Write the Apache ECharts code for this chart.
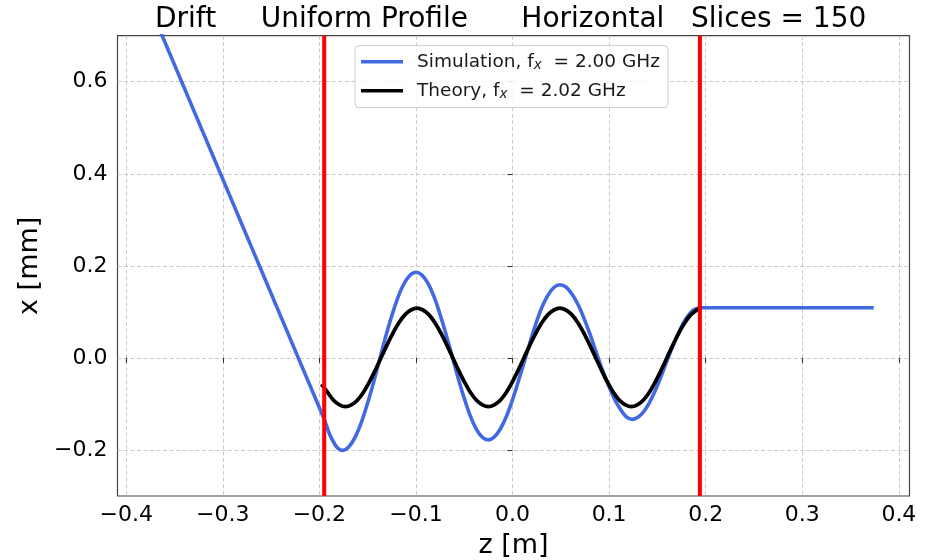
<!DOCTYPE html>
<html>
<head>
<meta charset="utf-8">
<script src="https://cdn.jsdelivr.net/npm/echarts@6/dist/echarts.min.js"></script>
<style>html,body{margin:0;padding:0;background:#fff}#c{width:932px;height:560px}</style>
</head>
<body>
<div id="c"></div>
<script>
// ---- data ----
const titleText = 'Drift     Uniform Profile      Horizontal   Slices = 150';
const driftZ = [-0.372, -0.195];
const driftX = [0.746, -0.133];
const simZ = [-0.195, -0.1918, -0.189, -0.1839, -0.1804, -0.1763,
  -0.1699, -0.1636, -0.1572, -0.1509, -0.1445, -0.1382, -0.1318, -0.1254, -0.1191, -0.1127, -0.1064, -0.100,
  -0.0938, -0.0875, -0.0813, -0.0751, -0.0688, -0.0626, -0.0564, -0.0501, -0.0439, -0.0377, -0.0314, -0.0252,
  -0.019, -0.0128, -0.0067, -0.0005, 0.0057, 0.0119, 0.0181, 0.0243, 0.0304, 0.0366, 0.0428, 0.049,
  0.0553, 0.0615, 0.0678, 0.074, 0.0803, 0.0865, 0.0928, 0.099, 0.1053, 0.1115, 0.1178, 0.124,
  0.1298, 0.1356, 0.1415, 0.1473, 0.1531, 0.1589, 0.1647, 0.1705, 0.1764, 0.1822, 0.188, 0.1938];
const simX = [-0.133, -0.152, -0.168, -0.188, -0.197, -0.201,
  -0.194, -0.175, -0.144, -0.104, -0.058, -0.008, 0.043, 0.089, 0.129, 0.160, 0.179, 0.186,
  0.180, 0.162, 0.133, 0.095, 0.051, 0.004, -0.043, -0.087, -0.125, -0.154, -0.172, -0.178,
  -0.172, -0.155, -0.129, -0.094, -0.053, -0.010, 0.034, 0.075, 0.110, 0.136, 0.153, 0.159,
  0.154, 0.139, 0.116, 0.086, 0.051, 0.013, -0.025, -0.058, -0.088, -0.111, -0.128, -0.1335,
  -0.129, -0.117, -0.098, -0.073, -0.044, -0.012, 0.019, 0.048, 0.074, 0.093, 0.105, 0.109];
const exitZ = [0.1938, 0.374];
const exitX = [0.109, 0.109];
const theoryZ = [-0.1977, -0.1915, -0.1853, -0.1792, -0.173, -0.1668, -0.1607, -0.1545, -0.1483, -0.1422,
  -0.136, -0.1298, -0.1237, -0.1175, -0.1113, -0.1052, -0.099, -0.0928, -0.0867, -0.0805,
  -0.0743, -0.0682, -0.062, -0.0558, -0.0497, -0.0435, -0.0373, -0.0312, -0.025, -0.0188,
  -0.0127, -0.0065, -0.0003, 0.0058, 0.012, 0.0182, 0.0243, 0.0305, 0.0367, 0.0428,
  0.049, 0.0552, 0.0613, 0.0675, 0.0737, 0.0798, 0.086, 0.0922, 0.0983, 0.1045,
  0.1107, 0.1168, 0.123, 0.1292, 0.1353, 0.1415, 0.1477, 0.1538, 0.16, 0.1662,
  0.1723, 0.1785, 0.1847, 0.1908, 0.1938];
const theoryX = [-0.057, -0.075, -0.092, -0.102, -0.106, -0.102, -0.092, -0.075, -0.0525, -0.027,
  0.001, 0.029, 0.0545, 0.077, 0.094, 0.104, 0.108, 0.104, 0.094, 0.077,
  0.0545, 0.029, 0.001, -0.027, -0.0525, -0.075, -0.092, -0.102, -0.106, -0.102,
  -0.092, -0.075, -0.0525, -0.027, 0.001, 0.029, 0.0545, 0.077, 0.094, 0.104,
  0.108, 0.104, 0.094, 0.077, 0.0545, 0.029, 0.001, -0.027, -0.0525, -0.075,
  -0.092, -0.102, -0.106, -0.102, -0.092, -0.075, -0.0525, -0.027, 0.001, 0.029,
  0.0545, 0.077, 0.094, 0.104, 0.108];
const boundaries = [-0.195, 0.194];
const xTicks = [-0.4, -0.3, -0.2, -0.1, 0.0, 0.1, 0.2, 0.3, 0.4];
const yTicks = [-0.2, 0.0, 0.2, 0.4, 0.6];
const simName = 'Simulation, f{sub|x}  = 2.00 GHz';
const theoryName = 'Theory, f{sub|x}  = 2.02 GHz';

// ---- build ----
const zip = (a, b) => a.map((v, i) => [v, b[i]]);
const FONT = 'DejaVu Sans';
const fmt = v => v.toFixed(1).replace('-', '\u2212');
const BLUE = '#4169E1';
const gridLine = {show: true, lineStyle: {color: '#c4c4c4', width: 0.9, type: [4, 2.5]}};

const series = [
  {name: simName, type: 'line', data: zip(simZ, simX), smooth: 0.3, showSymbol: false, symbol: 'none',
   lineStyle: {color: BLUE, width: 3.6}, itemStyle: {color: BLUE}, z: 2},
  {name: 'drift', type: 'line', data: zip(driftZ, driftX), showSymbol: false, symbol: 'none',
   lineStyle: {color: BLUE, width: 3.6}, z: 2},
  {name: 'exit', type: 'line', data: zip(exitZ, exitX), showSymbol: false, symbol: 'none',
   lineStyle: {color: BLUE, width: 3.6}, z: 2},
  {name: theoryName, type: 'line', data: zip(theoryZ, theoryX), smooth: 0.3, showSymbol: false, symbol: 'none',
   lineStyle: {color: '#000', width: 3.8}, itemStyle: {color: '#000'}, z: 3}
];
boundaries.forEach((b, i) => series.push({
  name: 'bound' + i, type: 'line', data: [[b, -0.3], [b, 0.7]], showSymbol: false, symbol: 'none',
  lineStyle: {color: '#ff0000', width: 4}, z: 4
}));

const chart = echarts.init(document.getElementById('c'), null, {renderer: 'canvas'});
chart.setOption({
  animation: false,
  backgroundColor: '#fff',
  textStyle: {fontFamily: FONT},
  title: {text: titleText, left: 155, top: 6, padding: 0,
    textStyle: {fontFamily: FONT, fontSize: 28, fontWeight: 'normal', color: '#000'}},
  grid: {left: 117.5, right: 22.5, top: 35.7, bottom: 64, show: true, borderColor: '#444', borderWidth: 1.2,
    backgroundColor: 'transparent', containLabel: false, outerBoundsMode: 'none'},
  legend: {
    data: [simName, theoryName], orient: 'vertical', left: 355, top: 45.7,
    padding: [5, 8, 6, 6], itemGap: 7, itemWidth: 42, itemHeight: 3.6, icon: 'rect',
    backgroundColor: 'rgba(255,255,255,0.85)', borderColor: '#cccccc', borderWidth: 1, borderRadius: 4,
    textStyle: {fontFamily: FONT, fontSize: 18.5, color: '#1a1a1a', lineHeight: 22, padding: [0, 0, 0, 9],
      rich: {sub: {fontFamily: FONT, fontSize: 13.5, fontStyle: 'italic', color: '#1a1a1a', verticalAlign: 'bottom', lineHeight: 14}}}
  },
  xAxis: {
    type: 'value', min: -0.409, max: 0.411,
    name: 'z [m]', nameLocation: 'middle', nameGap: 36,
    nameTextStyle: {fontFamily: FONT, fontSize: 27, color: '#000'},
    axisLine: {show: false},
    axisTick: {show: true, customValues: xTicks, length: 5, lineStyle: {color: '#333', width: 1.1}},
    axisLabel: {customValues: xTicks, formatter: fmt, fontFamily: FONT, fontSize: 22, color: '#000', margin: 8},
    splitLine: gridLine
  },
  yAxis: {
    type: 'value', min: -0.3, max: 0.7,
    name: 'x [mm]', nameLocation: 'middle', nameGap: 62,
    nameTextStyle: {fontFamily: FONT, fontSize: 27, color: '#000'},
    axisLine: {show: false},
    axisTick: {show: true, customValues: yTicks, length: 5, lineStyle: {color: '#333', width: 1.1}},
    axisLabel: {customValues: yTicks, formatter: fmt, fontFamily: FONT, fontSize: 22, color: '#000', margin: 10},
    splitLine: gridLine
  },
  series: series
});
</script>
</body>
</html>
